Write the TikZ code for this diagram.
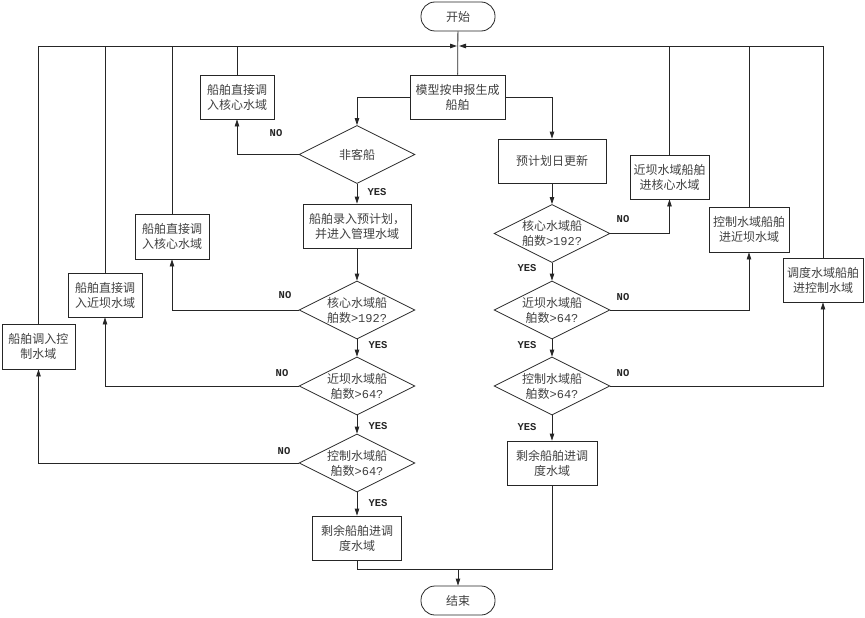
\documentclass[tikz,border=0pt]{standalone}
\usepackage{fontspec}
\newfontfamily\cjk{Noto Sans CJK SC}
\newfontfamily\mono{Liberation Mono}
\usetikzlibrary{shapes.geometric,arrows.meta}
\begin{document}
\begin{tikzpicture}[x=1pt,y=-1pt,
  ln/.style={draw=black!85, line width=0.8pt},
  arr/.style={ln, -{Triangle[length=7pt,width=4.5pt]}},
  cjktext/.style={font=\cjk\fontsize{12}{15}\selectfont, text=black!75},
  box/.style={cjktext, draw=black!85, line width=0.8pt, rectangle, minimum height=44pt, inner sep=0pt, align=center},
  dia/.style={draw=black!85, line width=0.8pt, diamond, minimum width=116pt, minimum height=58pt, inner sep=0pt},
  dtext/.style={cjktext, align=center, inner sep=0pt},
  term/.style={cjktext, draw=black!85, line width=0.8pt, rounded corners=14pt, minimum width=74pt, minimum height=29pt, inner sep=0pt},
  lab/.style={font=\mono\bfseries\fontsize{10.5}{12}\selectfont, text=black!85, inner sep=0pt}
]
\useasboundingbox (0,0) rectangle (865,618);

% terminals
\node[term] (start) at (458,16.5) {开始};
\node[term] (end) at (458,600.5) {结束};
\coordinate (top) at (458,46);
\coordinate (join) at (458,569);

% top box
\node[box, minimum width=95pt] (model) at (457.5,97) {模型按申报生成\\船舶};

% left column
\node[dia] (d0) at (357,154.5) {};
\node[dtext] (d0t) at (d0) {非客船};
\node[box, minimum width=74pt] (L0) at (237,97) {船舶直接调\\入核心水域};
\node[box, minimum width=108pt] (rec) at (357,226) {船舶录入预计划，\\并进入管理水域};
\node[dia] (d1) at (357,310) {};
\node[dtext] (d1t) at (d1) {核心水域船\\舶数{\mono >192?}};
\node[box, minimum width=74pt, minimum height=45pt] (L1) at (172,236.5) {船舶直接调\\入核心水域};
\node[dia] (d2) at (357,386) {};
\node[dtext] (d2t) at (d2) {近坝水域船\\舶数{\mono >64?}};
\node[box, minimum width=74pt] (L2) at (105,295) {船舶直接调\\入近坝水域};
\node[dia] (d3) at (357,463) {};
\node[dtext] (d3t) at (d3) {控制水域船\\舶数{\mono >64?}};
\node[box, minimum width=73pt, minimum height=45pt] (L3) at (38.5,346.5) {船舶调入控\\制水域};
\node[box, minimum width=89pt] (rem1) at (357,538) {剩余船舶进调\\度水域};

% right column
\node[box, minimum width=108pt] (plan) at (552,161) {预计划日更新};
\node[dia] (d4) at (552,233.5) {};
\node[dtext] (d4t) at (d4) {核心水域船\\舶数{\mono >192?}};
\node[box, minimum width=79pt] (R1) at (669.5,177) {近坝水域船舶\\进核心水域};
\node[dia] (d5) at (552,310) {};
\node[dtext] (d5t) at (d5) {近坝水域船\\舶数{\mono >64?}};
\node[box, minimum width=80pt, minimum height=45pt] (R2) at (749,229.5) {控制水域船舶\\进近坝水域};
\node[dia] (d6) at (552,386) {};
\node[dtext] (d6t) at (d6) {控制水域船\\舶数{\mono >64?}};
\node[box, minimum width=80pt] (R3) at (823,280) {调度水域船舶\\进控制水域};
\node[box, minimum width=90pt] (rem2) at (552,463) {剩余船舶进调\\度水域};

% labels
\node[lab] (n0) at (276,133) {NO};
\node[lab] (y0) at (377,192) {YES};
\node[lab] (n1) at (285,295) {NO};
\node[lab] (y1) at (378,345) {YES};
\node[lab] (n2) at (282,373) {NO};
\node[lab] (y2) at (378,426) {YES};
\node[lab] (n3) at (284,451) {NO};
\node[lab] (y3) at (378,503) {YES};
\node[lab] (n4) at (623,219) {NO};
\node[lab] (y4) at (527,268) {YES};
\node[lab] (n5) at (623,297) {NO};
\node[lab] (y5) at (527,345) {YES};
\node[lab] (n6) at (623,373) {NO};
\node[lab] (y6) at (527,427) {YES};

% connectors: main flow
\draw[ln] (start) -- (model);
\draw[arr] (model.west) -| (d0.north);
\draw[arr] (model.east) -| (plan.north);
\draw[arr] (d0.west) -| (L0.south);
\draw[arr] (d0.south) -- (rec.north);
\draw[arr] (rec.south) -- (d1.north);
\draw[arr] (d1.west) -| (L1.south);
\draw[arr] (d1.south) -- (d2.north);
\draw[arr] (d2.west) -| (L2.south);
\draw[arr] (d2.south) -- (d3.north);
\draw[arr] (d3.west) -| (L3.south);
\draw[arr] (d3.south) -- (rem1.north);

\draw[arr] (plan.south) -- (d4.north);
\draw[arr] (d4.east) -| (R1.south);
\draw[arr] (d4.south) -- (d5.north);
\draw[arr] (d5.east) -| (R2.south);
\draw[arr] (d5.south) -- (d6.north);
\draw[arr] (d6.east) -| (R3.south);
\draw[arr] (d6.south) -- (rem2.north);

% return bus
\draw[arr, shorten >=1pt] (L3.north) |- (top);
\draw[ln] (L2.north) -- (L2.north |- top);
\draw[ln] (L1.north) -- (L1.north |- top);
\draw[ln] (L0.north) -- (L0.north |- top);
\draw[arr, shorten >=1pt] (R3.north) |- (top);
\draw[ln] (R2.north) -- (R2.north |- top);
\draw[ln] (R1.north) -- (R1.north |- top);

% to end
\draw[ln] (rem1.south) |- (join);
\draw[ln] (rem2.south) |- (join);
\draw[arr] (join) -- (end.north);
\end{tikzpicture}
\end{document}
